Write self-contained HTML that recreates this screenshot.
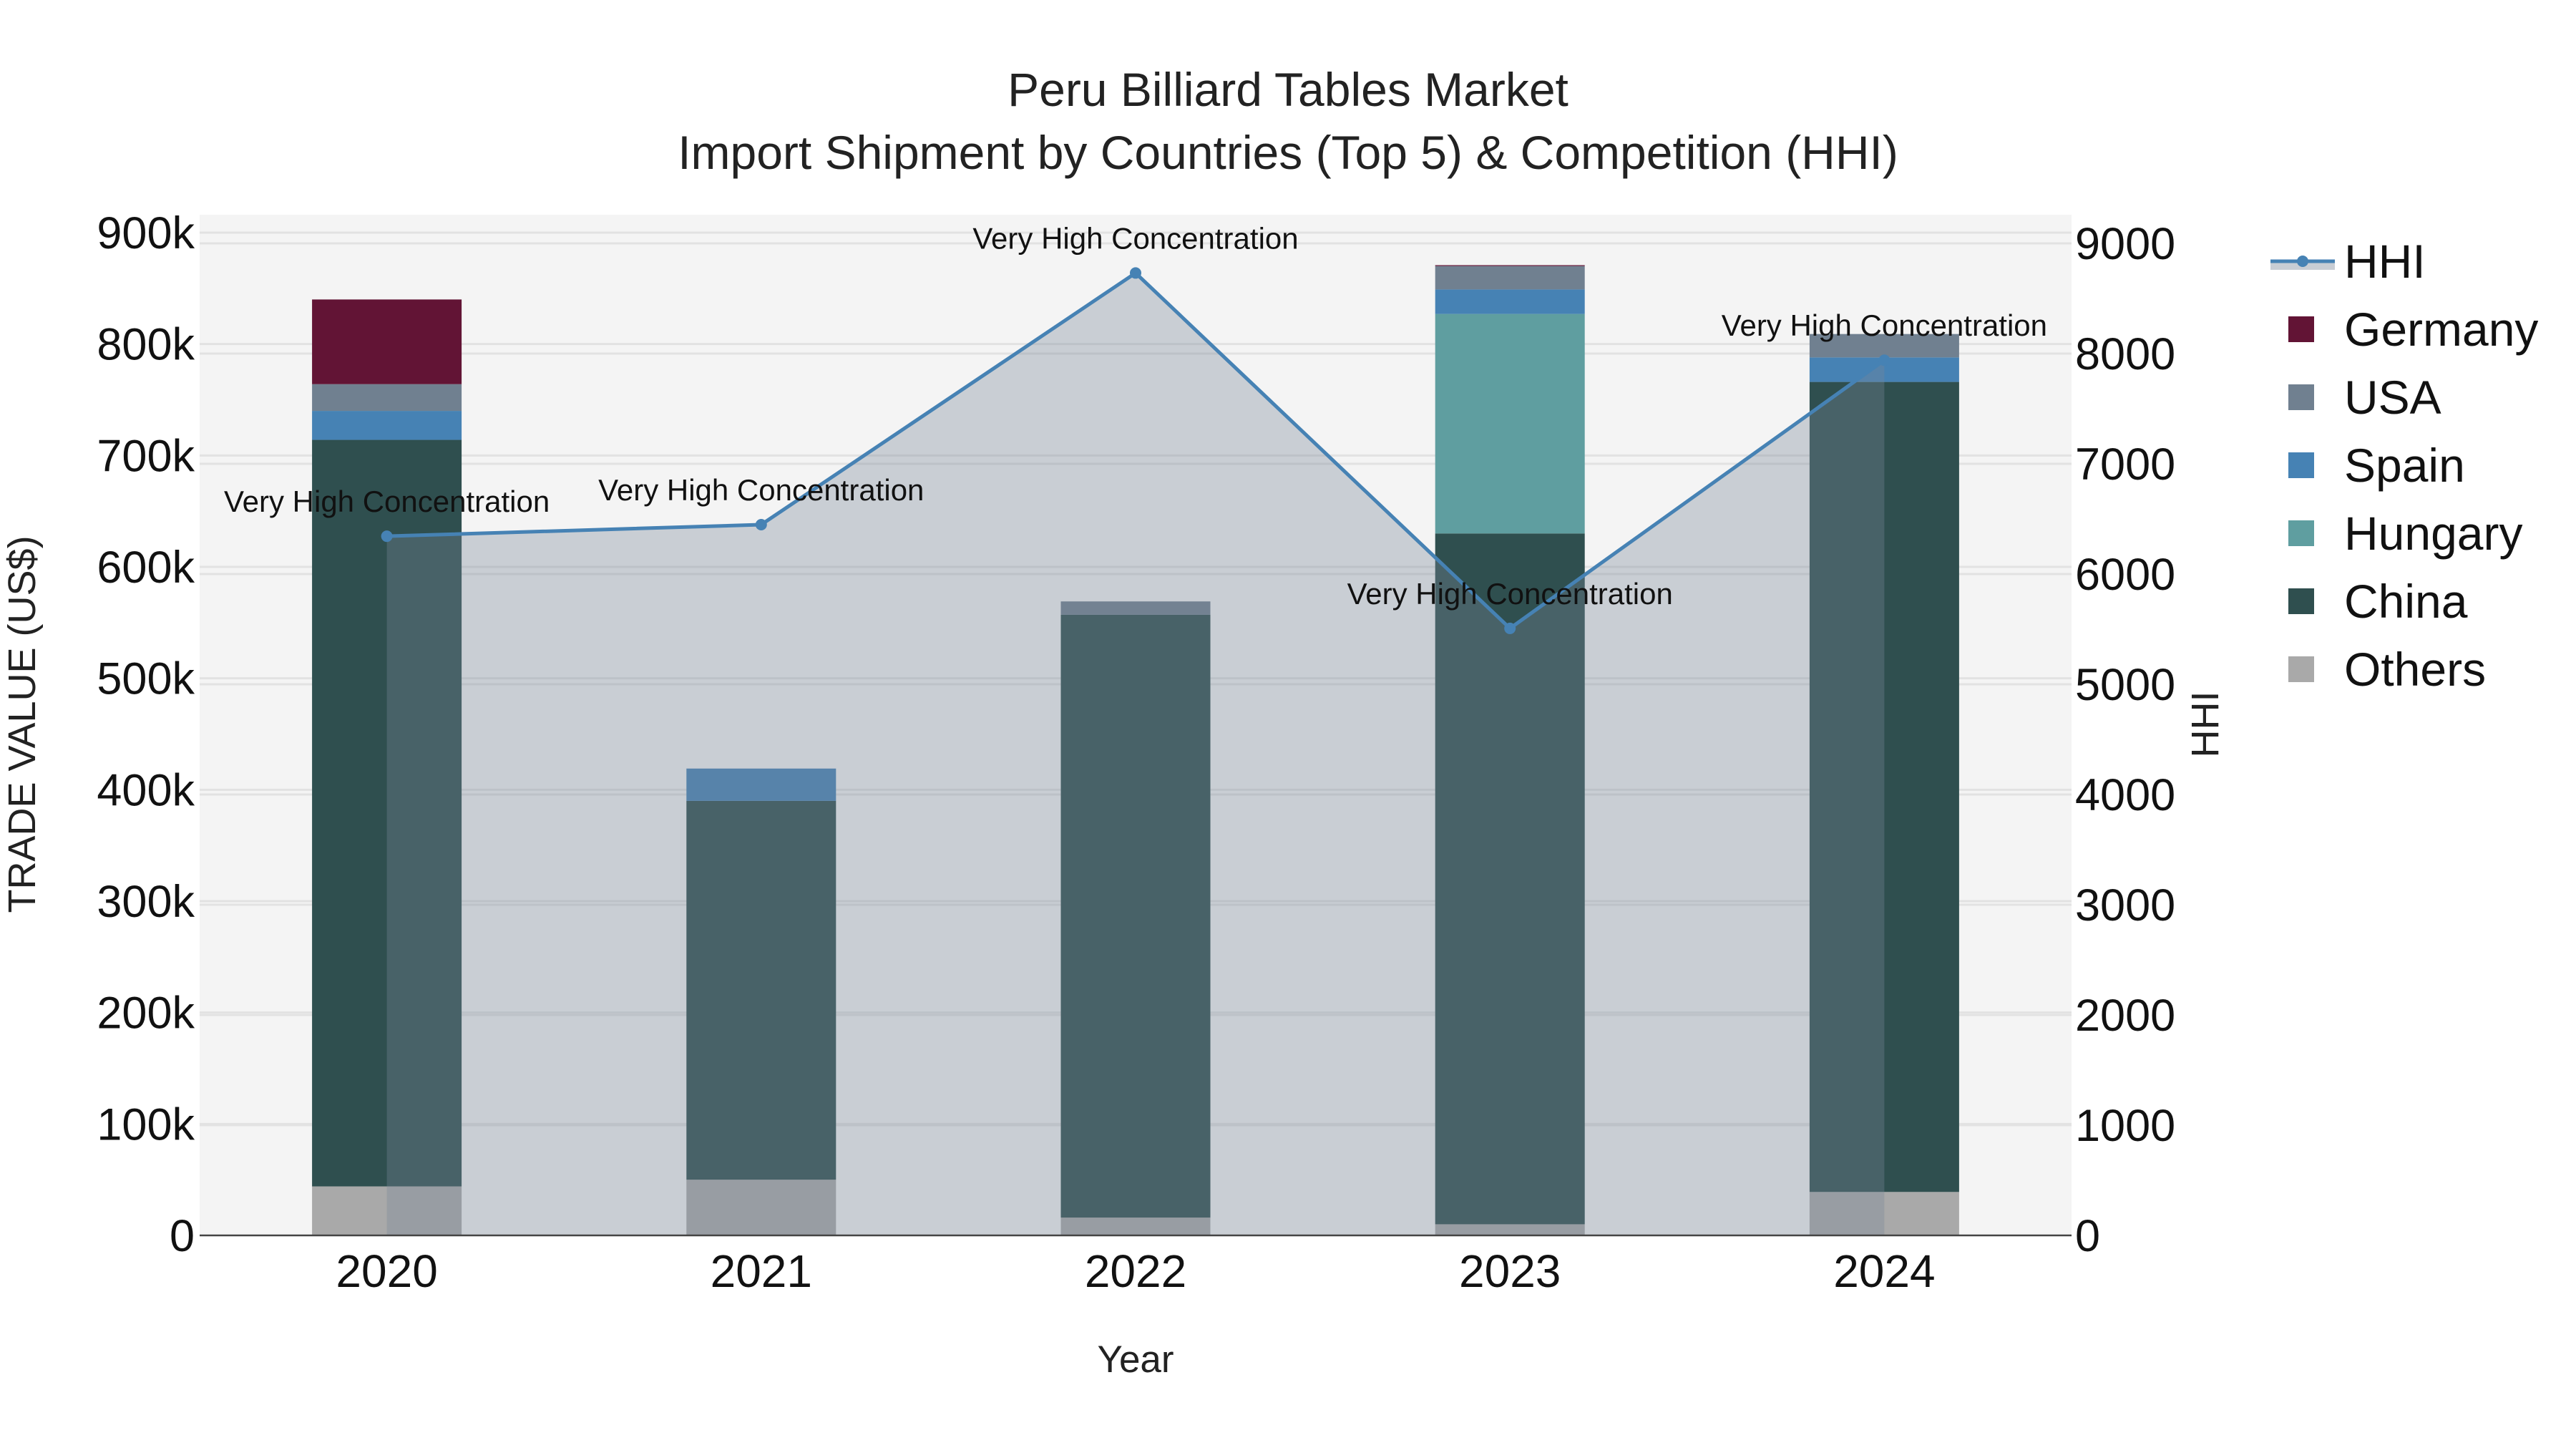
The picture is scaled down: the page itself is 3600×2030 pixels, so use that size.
<!DOCTYPE html>
<html><head><meta charset="utf-8"><style>
html,body{margin:0;padding:0;background:#fff;}
svg text{font-family:"Liberation Sans",sans-serif;}
</style></head><body>
<svg id="chart" width="3600" height="2025" viewBox="0 0 3600 2025" xmlns="http://www.w3.org/2000/svg">
<rect x="0" y="0" width="3600" height="2025" fill="#fff"/>
<rect x="279" y="300" width="2616" height="1426" fill="#f4f4f4"/>
<g id="grid"></g>
<g id="bars"></g>
<g id="hhi"></g>
<line x1="279" y1="1726" x2="2895" y2="1726" stroke="#444" stroke-width="2.5"/>
<g id="axes"></g>
<text x="1800" y="148" font-size="66" text-anchor="middle" fill="#222">Peru Billiard Tables Market</text>
<text x="1800" y="236" font-size="66" text-anchor="middle" fill="#222">Import Shipment by Countries (Top 5) &amp; Competition (HHI)</text>
<text x="1587" y="1917" font-size="53" text-anchor="middle" fill="#222">Year</text>
<text transform="translate(49,1012) rotate(-90)" font-size="54" text-anchor="middle" fill="#222">TRADE VALUE (US$)</text>
<text transform="translate(3100,1012) rotate(-90)" font-size="54" text-anchor="middle" fill="#222">HHI</text>
<g id="legend"></g>
</svg>
<script>
const years = ["2020","2021","2022","2023","2024"];
const others = [44000, 50000, 16000, 10000, 39000];
const china = [670000, 340000, 541000, 620000, 727000];
const hungary = [0, 0, 0, 197000, 0];
const spain = [26000, 29000, 0, 22000, 22000];
const usa = [24000, 0, 12000, 21000, 21000];
const germany = [76000, 0, 0, 800, 0];
const hhiValues = [6343, 6448, 8731, 5507, 7940];
const yTicks = [0,100000,200000,300000,400000,500000,600000,700000,800000,900000];
const yTickLabels = ["0","100k","200k","300k","400k","500k","600k","700k","800k","900k"];
const y2Ticks = [0,1000,2000,3000,4000,5000,6000,7000,8000,9000];
const annotationText = "Very High Concentration";

const NS="http://www.w3.org/2000/svg";
const L=279,R=2895,Z=1726;
function yScale(v){return Z - v*(1726-325)/900000;}
function y2Scale(v){return Z - v*(1726-340)/9000;}
const band=(R-L)/years.length;
function xScale(i){return L+band*(i+0.5);}
const barW=209;
function mk(tag,attrs,parent){const e=document.createElementNS(NS,tag);for(const k in attrs)e.setAttribute(k,attrs[k]);parent.appendChild(e);return e;}

const grid=document.getElementById('grid');
const axes=document.getElementById('axes');
yTicks.forEach((t,i)=>{
  if(t>0){const g=mk('line',{x1:L,x2:R,y1:yScale(t),y2:yScale(t),stroke:'#e2e2e2','stroke-width':3},grid);
  
  }
  const tx=mk('text',{x:272,y:yScale(t)+22,'font-size':63,'text-anchor':'end',fill:'#111'},axes);
  tx.textContent=yTickLabels[i];
  
  
});
y2Ticks.forEach(t=>{
  if(t>0){const g=mk('line',{x1:L,x2:R,y1:y2Scale(t),y2:y2Scale(t),stroke:'#e2e2e2','stroke-width':3},grid);
  
  }
  const tx=mk('text',{x:2900,y:y2Scale(t)+22,'font-size':63,'text-anchor':'start',fill:'#111'},axes);
  tx.textContent=String(t);
  
  
});
years.forEach((y,i)=>{
  const tx=mk('text',{x:xScale(i),y:1798,'font-size':64,'text-anchor':'middle',fill:'#111'},axes);
  tx.textContent=y;
  
  
});

const series=[["Others",others,"#a9a9a9"],["China",china,"#2f4f4f"],["Hungary",hungary,"#5f9ea0"],["Spain",spain,"#4682b4"],["USA",usa,"#708090"],["Germany",germany,"#621435"]];
const bars=document.getElementById('bars');
years.forEach((y,i)=>{
  let base=0;
  series.forEach(s=>{
    const v=s[1][i]; if(!v) return;
    const r=mk('rect',{x:xScale(i)-barW/2,y:yScale(base+v),width:barW,height:yScale(base)-yScale(base+v),fill:s[2]},bars);
    
    
    base+=v;
  });
});

const hhi=document.getElementById('hhi');
let pts=hhiValues.map((v,i)=>xScale(i)+','+y2Scale(v));
const area=mk('polygon',{points:xScale(0)+','+Z+' '+pts.join(' ')+' '+xScale(years.length-1)+','+Z,fill:'rgba(119,136,153,0.35)'},hhi);


const line=mk('polyline',{points:pts.join(' '),fill:'none',stroke:'#4682b4','stroke-width':5},hhi);


hhiValues.forEach((v,i)=>{
  const c=mk('circle',{cx:xScale(i),cy:y2Scale(v),r:8,fill:'#4682b4'},hhi);
  
  
  const t=mk('text',{x:xScale(i),y:y2Scale(v)-34,'font-size':42,'text-anchor':'middle',fill:'#111'},hhi);
  t.textContent=annotationText;
  
  
});

const lg=document.getElementById('legend');
const lr=mk('rect',{x:3173,y:365,width:90,height:12,fill:'#c8cdd4'},lg);


const ll=mk('line',{x1:3173,x2:3263,y1:365,y2:365,stroke:'#4682b4','stroke-width':5},lg);


const lc=mk('circle',{cx:3218,cy:365,r:8,fill:'#4682b4'},lg);


const lt=mk('text',{x:3276,y:388,'font-size':66,fill:'#111'},lg);
lt.textContent='HHI';


const legendOrder=[["Germany","#621435"],["USA","#708090"],["Spain","#4682b4"],["Hungary","#5f9ea0"],["China","#2f4f4f"],["Others","#a9a9a9"]];
legendOrder.forEach((s,k)=>{
  const cy=460+k*95;
  const r=mk('rect',{x:3198,y:cy-18,width:36,height:36,fill:s[1]},lg);
  
  
  const t=mk('text',{x:3276,y:cy+23,'font-size':66,fill:'#111'},lg);
  t.textContent=s[0];
  
  
});
</script>
</body></html>
